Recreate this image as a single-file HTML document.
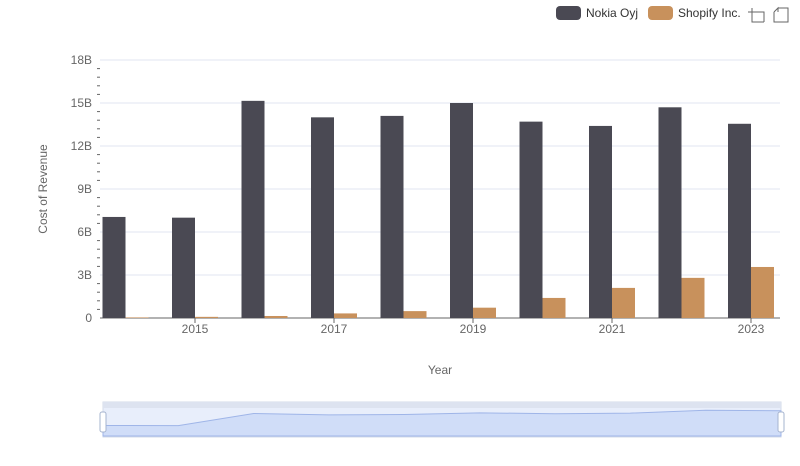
<!DOCTYPE html>
<html><head><meta charset="utf-8"><style>
body{margin:0;background:#fff;font-family:"Liberation Sans",sans-serif;}
svg text{font-family:"Liberation Sans",sans-serif;}
</style></head><body>
<svg id="c" width="800" height="461" xmlns="http://www.w3.org/2000/svg">
<g id="grid"></g>
<g id="bars"></g>
<g id="axes"></g>
<text x="47" y="189" transform="rotate(-90 47 189)" text-anchor="middle" font-size="12" fill="#666">Cost of Revenue</text>
<text x="440" y="374" text-anchor="middle" font-size="12" fill="#666">Year</text>
<g>
<g><rect x="556" y="6" width="25" height="14" rx="4" fill="#4a4953"/><text x="586" y="17" font-size="12" fill="#333">Nokia Oyj</text></g>
<g><rect x="648" y="6" width="25" height="14" rx="4" fill="#c8915c"/><text x="678" y="17" font-size="12" fill="#333">Shopify Inc.</text></g>
</g>
<g stroke="#666" fill="none"><path d="M748 12h16v10M752 8v14h12"/></g>
<g stroke="#666" fill="none"><path d="M778 8h10v14h-14v-10M774 12l4-4v4"/></g>
<g>
<rect x="103" y="402" width="678" height="35" fill="#e8eefb" stroke="#d3dbea"/>
<rect x="103" y="402" width="678" height="6" fill="#dde3f0"/>
<path id="mini" fill="#d0ddf8" stroke="#9fb5e8" stroke-width="1"/>
<rect x="100" y="412" width="6" height="20" rx="2" fill="#fff" stroke="#a6b4cf"/>
<rect x="778" y="412" width="6" height="20" rx="2" fill="#fff" stroke="#a6b4cf"/>
</g>
</svg>
<script>
const years=[2014,2015,2016,2017,2018,2019,2020,2021,2022,2023];
const nokia=[7.05,7.0,15.15,14.0,14.1,15.0,13.7,13.4,14.7,13.55];
const shopify=[0.04,0.08,0.14,0.32,0.48,0.72,1.4,2.1,2.8,3.56];
const yTicks=[0,3,6,9,12,15,18];
const yTickLabels=["0","3B","6B","9B","12B","15B","18B"];
const NS="http://www.w3.org/2000/svg";
const y0=318,yTop=60,yMax=18;
function y(v){return y0-v/yMax*(y0-yTop);}
function cx(i){return 125.5+69.5*i;}
function mk(tag,attrs,parent){const e=document.createElementNS(NS,tag);for(const k in attrs)e.setAttribute(k,attrs[k]);parent.appendChild(e);return e;}
const grid=document.getElementById('grid'),bars=document.getElementById('bars'),axes=document.getElementById('axes');
yTicks.forEach((t,i)=>{
  const l=mk('line',{x1:100,x2:780,y1:y(t),y2:y(t),stroke:i?'#e0e6f1':'#666'},grid);
  
  
  const tx=mk('text',{x:92,y:y(t)+4,'text-anchor':'end','font-size':12,fill:'#666'},axes);
  tx.textContent=yTickLabels[i];
  
  
  if(i<yTicks.length-1){for(let k=1;k<5;k++){const m=mk('line',{x1:97,x2:100,y1:y(t+k*0.6),y2:y(t+k*0.6),stroke:'#666'},axes);
  
  }}
});
years.forEach((yr,i)=>{
  const c=cx(i);
  const a=mk('rect',{x:c-23,y:y(nokia[i]),width:23,height:y0-y(nokia[i]),fill:'#4a4953'},bars);
  
  
  const b=mk('rect',{x:c,y:y(shopify[i]),width:23,height:y0-y(shopify[i]),fill:'#c8915c'},bars);
  
  
  if(i%2==1){
    mk('line',{x1:c,x2:c,y1:318,y2:323,stroke:'#666'},axes);
    const t=mk('text',{x:c,y:333,'text-anchor':'middle','font-size':12,fill:'#666'},axes);
    t.textContent=yr;
    
    
  }
});
// mini chart
let d='M103 436';
years.forEach((yr,i)=>{const x=103+678*i/(years.length-1);const v=nokia[i]+shopify[i];d+=' L'+x+' '+(436-v/19*28);});
d+=' L781 436 Z';
document.getElementById('mini').setAttribute('d',d);
</script>
</body></html>
